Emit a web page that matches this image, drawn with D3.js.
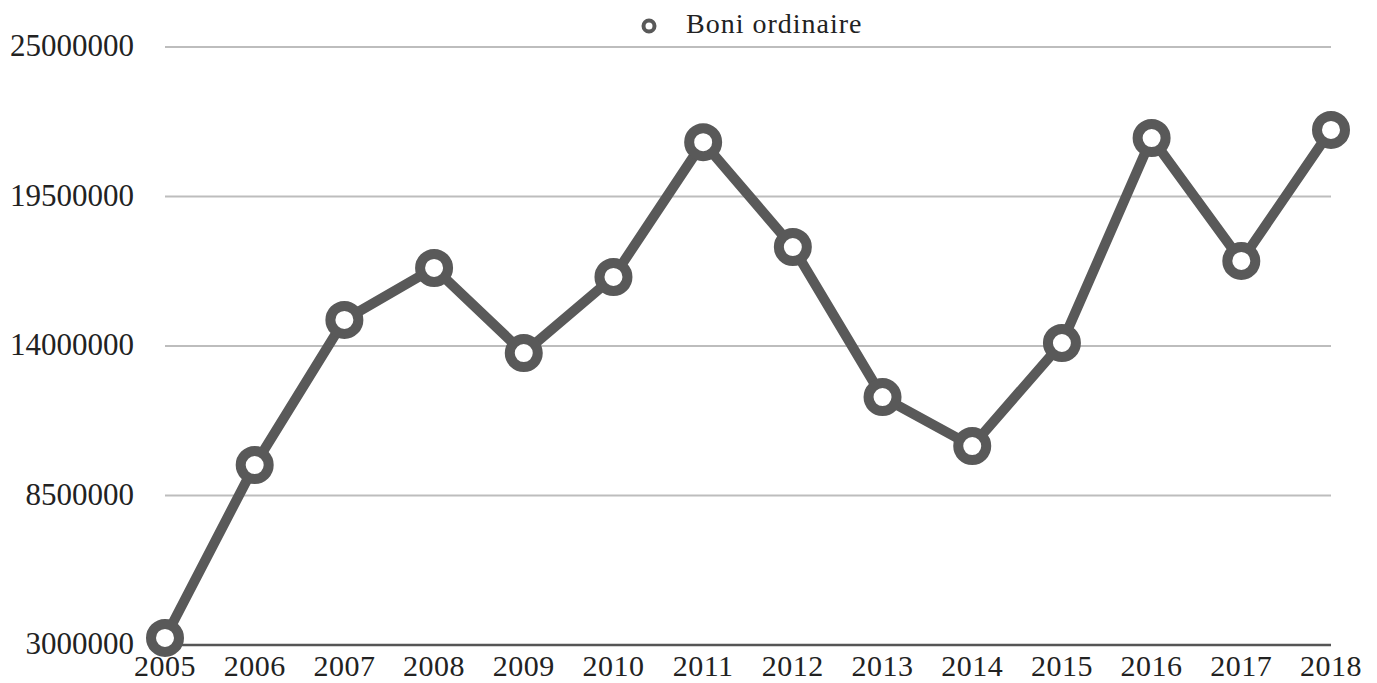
<!DOCTYPE html>
<html><head><meta charset="utf-8">
<script src="https://cdn.jsdelivr.net/npm/d3@7/dist/d3.min.js"></script>
<style>body{margin:0;background:#fff}</style>
</head><body>
<svg id="c" width="1377" height="683"></svg>
<script>
const years = ["2005","2006","2007","2008","2009","2010","2011","2012","2013","2014","2015","2016","2017","2018"];
const values = [3260000, 9620000, 14960000, 16870000, 13740000, 16540000, 21500000, 17640000, 12120000, 10320000, 14110000, 21650000, 17130000, 21950000];
const yTicks = [3000000, 8500000, 14000000, 19500000, 25000000];
const seriesName = "Boni ordinaire";

const svg = d3.select("#c");
const font = "'Liberation Serif', 'DejaVu Serif', serif";
const x = d3.scalePoint().domain(years).range([165, 1331]);
const y = d3.scaleLinear().domain([3000000, 25000000]).range([645, 47]);

// gridlines
svg.append("g").selectAll("line").data(yTicks.slice(1)).join("line")
  .attr("x1", 165).attr("x2", 1331)
  .attr("y1", d => y(d)).attr("y2", d => y(d))
  .attr("stroke", "#bdbdbd").attr("stroke-width", 2);

// x axis line
svg.append("line").attr("x1", 165).attr("x2", 1331)
  .attr("y1", y(3000000)).attr("y2", y(3000000))
  .attr("stroke", "#555").attr("stroke-width", 2.5);

// y labels
svg.append("g").selectAll("text").data(yTicks).join("text")
  .attr("x", 134).attr("y", d => y(d) + 9)
  .attr("text-anchor", "end").attr("font-family", font).attr("font-size", 31)
  .attr("fill", "#222").text(d => d);

// x labels
svg.append("g").selectAll("text").data(years).join("text")
  .attr("x", d => x(d)).attr("y", 676)
  .attr("text-anchor", "middle").attr("font-family", font).attr("font-size", 30)
  .attr("letter-spacing", 0.5)
  .attr("fill", "#222").text(d => d);

// line
const line = d3.line().x((d, i) => x(years[i])).y(d => y(d));
svg.append("path").datum(values).attr("d", line)
  .attr("fill", "none").attr("stroke", "#595959").attr("stroke-width", 10)
  .attr("stroke-linejoin", "round");

svg.append("g").selectAll("circle").data(values).join("circle")
  .attr("cx", (d, i) => x(years[i])).attr("cy", d => y(d)).attr("r", 14)
  .attr("fill", "#fff").attr("stroke", "#595959").attr("stroke-width", 10);

// legend
svg.append("circle").attr("cx", 649).attr("cy", 26).attr("r", 5.5)
  .attr("fill", "#fff").attr("stroke", "#595959").attr("stroke-width", 4);
svg.append("text").attr("x", 686).attr("y", 33).attr("font-family", font)
  .attr("font-size", 28).attr("letter-spacing", 1).attr("fill", "#222").text(seriesName);
</script>
</body></html>
